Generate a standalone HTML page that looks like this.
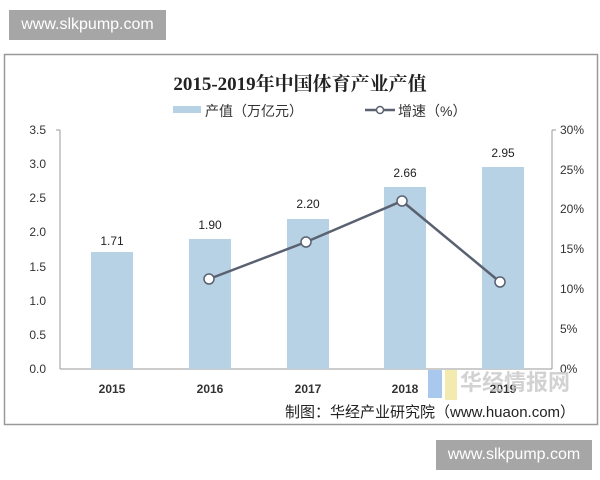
<!DOCTYPE html><html><head><meta charset="utf-8"><style>
body{margin:0;width:600px;height:480px;background:#fff;overflow:hidden;font-family:"Liberation Sans","Noto Sans CJK SC",sans-serif}
.badge{position:absolute;background:#a6a6a6;color:#fff;font-size:16px;line-height:30px;text-align:center}
</style></head><body>
<div class="badge" style="left:9px;top:10px;width:157px;height:30px">www.slkpump.com</div>
<div class="badge" style="left:436px;top:440px;width:156px;height:30px">www.slkpump.com</div>
<svg width="600" height="480" style="position:absolute;left:0;top:0" font-family="Liberation Sans,Noto Sans CJK SC,sans-serif">
<rect x="4.5" y="54.5" width="593" height="370" fill="none" stroke="#999" stroke-width="1.5"/>
<text x="300" y="90" text-anchor="middle" font-family="Liberation Serif,Noto Serif CJK SC,serif" font-weight="bold" font-size="19" fill="#222">2015-2019年中国体育产业产值</text>
<rect x="173" y="106" width="28" height="7" fill="#b7d2e4"/>
<text x="205" y="116" font-size="14" fill="#333">产值（万亿元）</text>
<line x1="365" y1="110" x2="395" y2="110" stroke="#5a6170" stroke-width="2.5"/><circle cx="380" cy="110" r="3.5" fill="#fff" stroke="#5a6170" stroke-width="1.5"/>
<text x="398" y="116" font-size="14" fill="#333">增速（%）</text>
<g stroke="#999" stroke-width="1"><line x1="60" y1="130" x2="60" y2="369"/><line x1="56" y1="130" x2="60" y2="130"/><line x1="552" y1="130" x2="552" y2="369"/><line x1="552" y1="130" x2="556" y2="130"/><line x1="60" y1="369" x2="552" y2="369"/></g>
<g font-size="12" fill="#333" text-anchor="end">
<text x="46" y="134">3.5</text><text x="46" y="168">3.0</text><text x="46" y="202">2.5</text><text x="46" y="236">2.0</text><text x="46" y="271">1.5</text><text x="46" y="305">1.0</text><text x="46" y="339">0.5</text><text x="46" y="373">0.0</text></g>
<g font-size="12" fill="#333"><text x="560" y="134">30%</text><text x="560" y="174">25%</text><text x="560" y="213">20%</text><text x="560" y="253">15%</text><text x="560" y="293">10%</text><text x="560" y="333">5%</text><text x="560" y="373">0%</text></g>
<g fill="#b7d2e4"><rect x="91" y="252" width="42" height="117"/><rect x="189" y="239" width="42" height="130"/><rect x="287" y="219" width="42" height="150"/><rect x="384" y="187" width="42" height="182"/><rect x="482" y="167" width="42" height="202"/></g>
<g font-size="12" fill="#222" text-anchor="middle"><text x="112" y="245">1.71</text><text x="210" y="229">1.90</text><text x="308" y="208">2.20</text><text x="405" y="177">2.66</text><text x="503" y="157">2.95</text></g>
<g font-size="12" fill="#333" text-anchor="middle" font-weight="bold"><text x="112" y="393">2015</text><text x="210" y="393">2016</text><text x="308" y="393">2017</text><text x="405" y="393">2018</text><text x="503" y="393">2019</text></g>
<polyline points="209,279 306,242 402,201 500,282" fill="none" stroke="#5a6170" stroke-width="2.5"/>
<g fill="#fff" stroke="#5a6170" stroke-width="1.5"><circle cx="209" cy="279" r="5"/><circle cx="306" cy="242" r="5"/><circle cx="402" cy="201" r="5"/><circle cx="500" cy="282" r="5"/></g>
<rect x="428" y="370" width="14" height="28" fill="#a9c8ee"/><rect x="445" y="370" width="12" height="30" fill="#f3eab0"/>
<text x="460" y="390" font-size="22" font-weight="bold" fill="#c8c8c8" opacity="0.8">华经情报网</text>
<text x="285" y="417" font-size="15" fill="#222">制图：华经产业研究院（www.huaon.com）</text>
</svg></body></html>
